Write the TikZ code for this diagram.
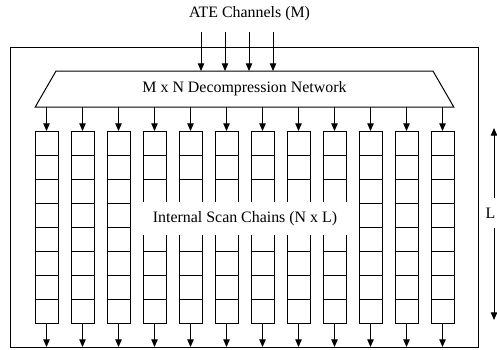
\documentclass[tikz,border=0pt]{standalone}
\usepackage{fontspec}
\setmainfont{Liberation Serif}
\usetikzlibrary{arrows.meta, shapes.geometric}

\begin{document}
\begin{tikzpicture}[
  x=0.5pt, y=-0.5pt,
  font=\fontsize{7.95}{9.5}\selectfont,
  line width=0.5pt,
  arr/.style={-{Triangle[width=3.2pt, length=3.8pt]}},
  darr/.style={{Triangle[width=3.2pt, length=3.8pt]}-{Triangle[width=3.2pt, length=3.8pt]}},
  chainbox/.style={draw, minimum width=11.5pt, minimum height=96pt,
                   inner sep=0pt, outer sep=0pt},
  netbox/.style={draw, trapezium, trapezium stretches=true,
                 trapezium angle=52, minimum width=209.5pt,
                 minimum height=18pt, inner sep=0pt, outer sep=0pt},
  lbl/.style={fill=white, inner sep=0pt},
]
\useasboundingbox (0,0) rectangle (497,349);

%% ── chip outline ──────────────────────────────────────────────────
\node[draw, minimum width=234pt, minimum height=150pt,
      inner sep=0pt, outer sep=0pt] (chip) at (244,197) {};

%% ── ATE inputs and decompressor ───────────────────────────────────
\node (ate) at (249.5,14) {ATE Channels (M)};
\node[netbox] (net) at (244.5,89) {M x N Decompression Network};

\foreach \x in {201,225,249,273}
  \draw[arr] (\x,32) -- (\x,32 |- net.north);

%% ═══ scan chains: 12 columns of 8 cells ═══════════════════════════
\foreach \i in {1,...,12} {
  \node[chainbox] (ch\i) at ({46.5+36*(\i-1)}, 227) {};
  \foreach \k in {1,...,7}
    \draw (ch\i.north west) ++(0,24*\k) -- ++(23,0);
  % decompressor -> chain, chain -> chip outputs
  \draw[arr] (ch\i.north |- net.south) -- (ch\i.north);
  \draw[arr] (ch\i.south) -- (ch\i.south |- chip.south);
}

\node[lbl, minimum width=107pt, minimum height=16.5pt] (scan)
  at (245,218.5) {Internal Scan Chains (N x L)};

%% ── chain length ──────────────────────────────────────────────────
\coordinate (ltop) at (494,128);
\coordinate (lbot) at (494,320);
\draw[darr] (ltop) -- (lbot);
\node[lbl, inner ysep=5pt, inner xsep=1pt] (len) at (490.5,213) {L};

\end{tikzpicture}
\end{document}
